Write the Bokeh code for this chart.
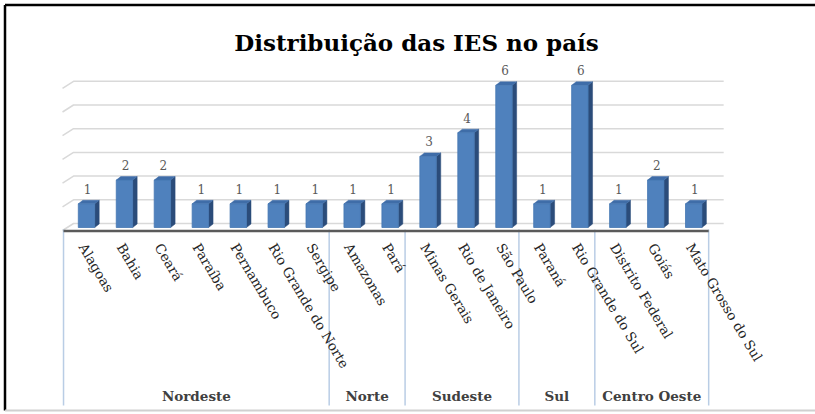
import numpy as np
from bokeh.plotting import figure
from bokeh.models import Range1d, ColumnDataSource
from bokeh.embed import file_html
from bokeh.resources import INLINE
from bokeh.core.properties import value

# ---------------- data ----------------
chart_title = "Distribuição das IES no país"
states = ["Alagoas", "Bahia", "Ceará", "Paraíba", "Pernambuco",
          "Rio Grande do Norte", "Sergipe", "Amazonas", "Pará",
          "Minas Gerais", "Rio de Janeiro", "São Paulo", "Paraná",
          "Rio Grande do Sul", "Distrito Federal", "Goiás",
          "Mato Grosso do Sul"]
counts = [1, 2, 2, 1, 1, 1, 1, 1, 1, 3, 4, 6, 1, 6, 1, 2, 1]
regions = ["Nordeste", "Norte", "Sudeste", "Sul", "Centro Oeste"]
region_sizes = [7, 2, 3, 2, 3]
grid_levels = [0, 1, 2, 3, 4, 5, 6]

# ---------------- layout ----------------
W, H = 815, 414
PX_X = 37.95   # pixels per category
PX_Y = 23.7    # pixels per unit


def dx(px):
    return px / PX_X


def dy(px):
    return px / PX_Y


x0 = -86 / PX_X
x1 = x0 + W / PX_X
y1 = 227 / PX_Y
y0 = y1 - H / PX_Y

SERIF = "DejaVu Serif"

p = figure(width=W, height=H, output_backend="svg", toolbar_location=None,
           x_range=Range1d(x0, x1), y_range=Range1d(y0, y1),
           x_axis_location=None, y_axis_location=None, min_border=0)
p.grid.visible = False
p.outline_line_color = None
p.background_fill_color = "white"
p.border_fill_color = "white"

n = len(states)
xi = np.arange(n, dtype=float)
v = np.array(counts, dtype=float)

# ---- back-wall gridlines with perspective stubs ----
boff = dy(4)
gx0 = -0.5 + dx(6)
gx1 = (n - 0.5) + dx(11)
gxs, gys = [], []
for t in grid_levels:
    gy = t + boff
    gxs.append([gx0 - dx(11), gx0, gx1])
    gys.append([gy - dy(7), gy, gy])
p.multi_line(xs=gxs, ys=gys, line_color="#D9D9D9", line_width=1.5)

# ---- group separators ----
bounds = -0.5 + np.concatenate([[0], np.cumsum(region_sizes)])
sep_x = bounds - dx(4)
p.segment(x0=sep_x, y0=[-dy(2)] * len(sep_x), x1=sep_x,
          y1=[-dy(178)] * len(sep_x), line_color="#B9CDE5", line_width=1.5)

# ---- 3D bars ----
half = dx(8.2)
ddx = dx(4.5)
ddy = dy(3.5)
side_xs = [[i + half, i + half + ddx, i + half + ddx, i + half] for i in xi]
side_ys = [[0, ddy, h + ddy, h] for h in v]
top_xs = [[i - half, i + half, i + half + ddx, i - half + ddx] for i in xi]
top_ys = [[h, h, h + ddy, h + ddy] for h in v]
p.patches(xs=side_xs, ys=side_ys, fill_color="#2B4C7A", line_color="#2B4C7A",
          line_width=0.5)
p.patches(xs=top_xs, ys=top_ys, fill_color="#3F6DA8", line_color="#3F6DA8",
          line_width=0.5)
src = ColumnDataSource(dict(x=xi, top=v, state=states,
                            lbl=[str(c) for c in counts]))
p.vbar(x="x", top="top", bottom=0, width=2 * half, source=src,
       fill_color="#4F81BD", line_color="#4577B3", line_width=0.8)

# ---- baseline (floor edge) ----
p.line(x=[bounds[0] - dx(4), bounds[-1] - dx(4)], y=[-dy(3.5), -dy(3.5)],
       line_color="#5A5A5A", line_width=2.5)

# ---- value labels ----
p.text(x=xi + dx(1), y=v + dy(15), text=[str(c) for c in counts],
       text_font=value(SERIF), text_font_size="12px", text_color="#595959",
       text_align="center", text_baseline="middle")

# ---- category labels (rotated) ----
p.text(x=xi - dx(4), y=[-dy(17)] * n, text=states, angle=-59,
       angle_units="deg", text_font=value(SERIF), text_font_size="13.5px",
       text_color="#262626", text_align="left", text_baseline="middle")

# ---- region labels ----
centers = (bounds[:-1] + bounds[1:]) / 2 - dx(4)
p.text(x=centers, y=[-dy(168)] * len(regions), text=regions,
       text_font=value(SERIF), text_font_size="13.5px", text_font_style="bold",
       text_color="#404040", text_align="center", text_baseline="middle")

# ---- title ----
p.text(x=[x0 + dx(416)], y=[y1 - dy(42)], text=[chart_title],
       text_font=value(SERIF), text_font_size="23px", text_font_style="bold",
       text_color="black", text_align="center", text_baseline="middle")

# ---- frame border ----
bx_l = x0 + dx(4.5)
by_t = y1 - dy(4.5)
by_b = y1 - dy(410)
p.line(x=[bx_l, x1], y=[by_t, by_t], line_color="black", line_width=2.5)
p.line(x=[bx_l, bx_l], y=[by_t, by_b], line_color="black", line_width=2.5)
p.line(x=[bx_l, x1], y=[by_b, by_b], line_color="#D0D0D0", line_width=2)

open("out.html", "w").write(file_html(p, INLINE))
